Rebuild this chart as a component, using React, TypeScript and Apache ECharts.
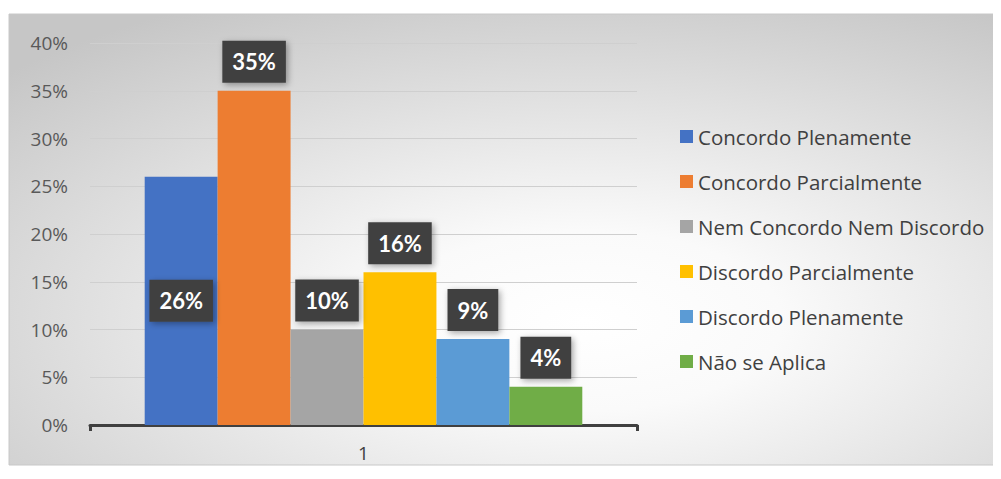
import React, { useEffect, useRef } from "react";
import * as echarts from "echarts";

const categories = ["1"];
const seriesNames = [
  "Concordo Plenamente",
  "Concordo Parcialmente",
  "Nem Concordo Nem Discordo",
  "Discordo Parcialmente",
  "Discordo Plenamente",
  "Não se Aplica",
];
const seriesValues = [26, 35, 10, 16, 9, 4];
const seriesColors = ["#4472C4", "#ED7D31", "#A5A5A5", "#FFC000", "#5B9BD5", "#70AD47"];
const labelPositions = ["inside", "top", "top", "top", "top", "top"];
const yTicks = [0, 5, 10, 15, 20, 25, 30, 35, 40];

const FONT = "'Open Sans', Lato, sans-serif";
const LABEL_FONT = "Lato, 'Open Sans', sans-serif";

export default function App() {
  const ref = useRef<HTMLDivElement>(null);
  useEffect(() => {
    if (!ref.current) return;
    const chart = echarts.init(ref.current, undefined, { renderer: "svg" });
    const series = seriesNames.map((name, i) => ({
      name,
      type: "bar",
      data: [seriesValues[i]],
      barGap: "0%",
      barCategoryGap: "20%",
      itemStyle: { color: seriesColors[i] },
      label: {
        show: true,
        position: labelPositions[i],
        distance: 8,
        formatter: (p: any) => p.value + "%",
        color: "#ffffff",
        fontWeight: "bold",
        fontSize: 22,
        fontFamily: LABEL_FONT,
        lineHeight: 24,
        backgroundColor: "#404040",
        padding: [9, 10, 9, 10],
        shadowColor: "rgba(0,0,0,0.35)",
        shadowBlur: 6,
        shadowOffsetX: 2,
        shadowOffsetY: 2,
      },
    }));
    chart.setOption({
      animation: false,
      textStyle: { fontFamily: FONT },
      graphic: [
        {
          type: "rect",
          z: -10,
          silent: true,
          shape: { x: 1, y: 6, width: 991, height: 451 },
          style: {
            fill: {
              type: "radial",
              x: 0.58,
              y: 0.68,
              r: 0.8,
              colorStops: [
                { offset: 0, color: "#ffffff" },
                { offset: 0.25, color: "#fafafa" },
                { offset: 1, color: "#c6c6c6" },
              ],
            },
            stroke: "#c8c8c8",
            lineWidth: 1,
          },
        },
      ],
      grid: { left: 82, right: 364, top: 35, bottom: 54 },
      legend: {
        orient: "vertical",
        left: 667,
        top: 113,
        itemWidth: 13,
        itemHeight: 13,
        itemGap: 24,
        icon: "rect",
        data: seriesNames,
        textStyle: { fontSize: 20.5, color: "#404040", lineHeight: 20, fontFamily: FONT, padding: [0, 0, 0, 0] },
      },
      xAxis: {
        type: "category",
        data: categories,
        axisLine: { lineStyle: { color: "#404040", width: 3 } },
        axisTick: { show: true, length: 6, lineStyle: { color: "#404040", width: 3 } },
        axisLabel: { fontSize: 19, color: "#404040", margin: 18, fontFamily: FONT },
      },
      yAxis: {
        type: "value",
        min: 0,
        max: 40,
        interval: 5,
        axisLine: { show: false },
        axisTick: { show: false },
        axisLabel: {
          fontSize: 19,
          color: "#595959",
          margin: 22,
          fontFamily: FONT,
          formatter: (v: number) => (yTicks.includes(v) ? v + "%" : ""),
        },
        splitLine: { lineStyle: { color: "#cfcfcf", width: 1 } },
      },
      series,
    });
    return () => chart.dispose();
  }, []);
  return <div ref={ref} style={{ width: 993, height: 471 }} />;
}
